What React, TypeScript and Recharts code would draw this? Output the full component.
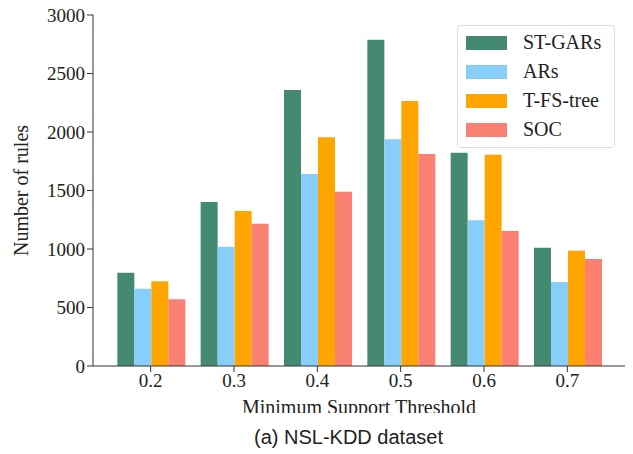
import { BarChart, Bar, XAxis, YAxis } from "recharts";

const thresholds = ["0.2", "0.3", "0.4", "0.5", "0.6", "0.7"];
const stGars = [797, 1402, 2359, 2789, 1823, 1011];
const ars = [660, 1020, 1641, 1937, 1245, 718];
const tfsTree = [724, 1325, 1955, 2265, 1806, 985];
const soc = [570, 1216, 1490, 1812, 1154, 914];
const yTicks = [0, 500, 1000, 1500, 2000, 2500, 3000];

const series = [
  { key: "stGars", name: "ST-GARs", color: "#448A70" },
  { key: "ars", name: "ARs", color: "#87CEFA" },
  { key: "tfsTree", name: "T-FS-tree", color: "#FFA500" },
  { key: "soc", name: "SOC", color: "#FA8072" },
];

const data = thresholds.map((t, i) => ({
  threshold: t,
  stGars: stGars[i],
  ars: ars[i],
  tfsTree: tfsTree[i],
  soc: soc[i],
}));

const serif = "'Liberation Serif', 'Times New Roman', serif";
const axisColor = "#333";

function LegendBox() {
  return (
    <div
      style={{
        position: "absolute",
        left: 457,
        top: 25,
        width: 158,
        height: 123,
        border: "1px solid #ddd",
        borderRadius: 4,
        background: "rgba(255,255,255,0.85)",
        padding: "2px 0 0 8px",
        boxSizing: "border-box",
      }}
    >
      {series.map((s) => (
        <div key={s.key} style={{ display: "flex", alignItems: "center", height: 29, whiteSpace: "nowrap" }}>
          <div style={{ width: 41, height: 14, background: s.color, marginRight: 16 }} />
          <span style={{ fontFamily: serif, fontSize: 20, color: "#222" }}>{s.name}</span>
        </div>
      ))}
    </div>
  );
}

export default function App() {
  return (
    <div style={{ position: "absolute", left: 0, top: 0, width: 633, height: 454, background: "#fff" }}>
      <BarChart
        width={633}
        height={454}
        data={data}
        margin={{ top: 15, right: 8, bottom: 58, left: 0 }}
        barCategoryGap="10%"
        barGap={0}
      >
        <XAxis
          dataKey="threshold"
          height={30}
          padding={{ left: 16, right: 16 }}
          stroke={axisColor}
          tickSize={6}
          tick={{ fontFamily: serif, fontSize: 19, fill: "#222" }}
          label={{
            value: "Minimum Support Threshold",
            position: "bottom",
            offset: 4,
            style: { fontFamily: serif, fontSize: 20, fill: "#222" },
          }}
        />
        <XAxis xAxisId="top" orientation="top" dataKey="threshold" height={0} tick={false} tickLine={false} stroke={axisColor} />
        <YAxis
          width={93}
          domain={[0, 3000]}
          ticks={yTicks}
          stroke={axisColor}
          tickSize={6}
          tick={{ fontFamily: serif, fontSize: 19, fill: "#222" }}
          label={{
            value: "Number of rules",
            angle: -90,
            position: "insideLeft",
            offset: 21,
            style: { fontFamily: serif, fontSize: 20, fill: "#222", textAnchor: "middle" },
          }}
        />
        <YAxis yAxisId="right" orientation="right" width={0} tick={false} tickLine={false} stroke={axisColor} />
        {series.map((s) => (
          <Bar key={s.key} dataKey={s.key} name={s.name} fill={s.color} isAnimationActive={false} />
        ))}
      </BarChart>
      <LegendBox />
      <div
        style={{
          position: "absolute",
          left: 0,
          top: 413,
          width: 633,
          height: 41,
          background: "#fff",
          textAlign: "center",
          fontFamily: "'Liberation Sans', Arial, sans-serif",
          fontSize: 20,
          lineHeight: "48px",
          color: "#222",
        }}
      >
        <span style={{ position: "relative", left: 32 }}>(a) NSL-KDD dataset</span>
      </div>
    </div>
  );
}
